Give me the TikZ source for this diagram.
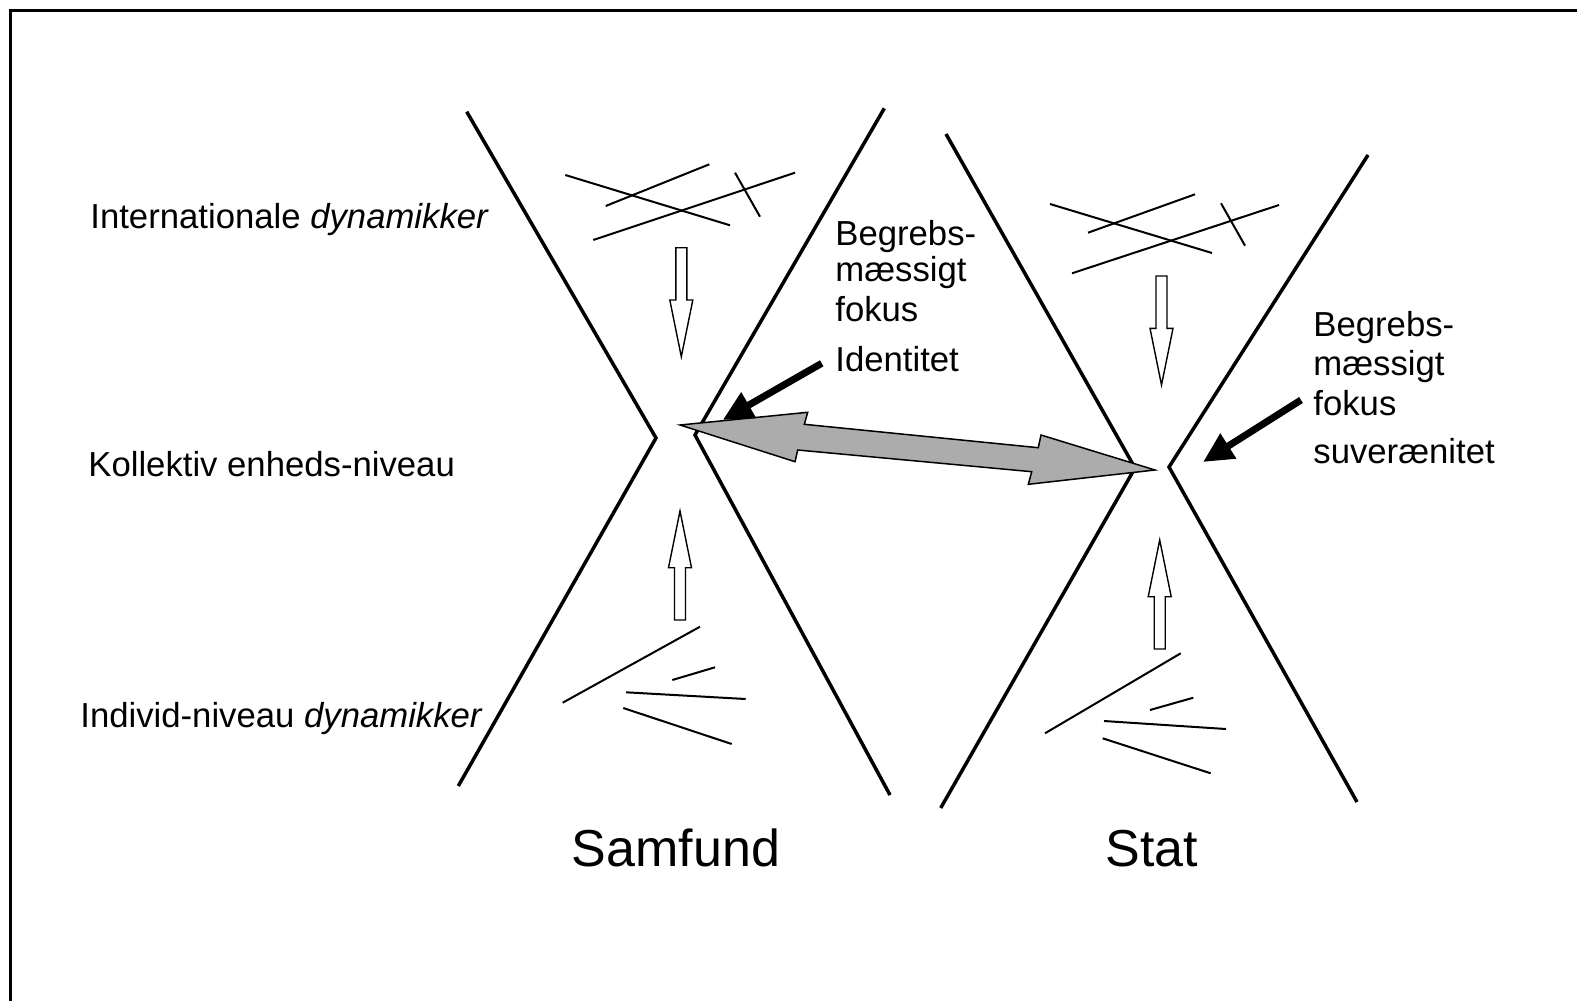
\documentclass[tikz,border=0pt]{standalone}
\usepackage{fontspec}
\setmainfont{Liberation Sans}
\usetikzlibrary{arrows.meta}
\definecolor{arrowgray}{HTML}{ABACAB}
\begin{document}
\begin{tikzpicture}[x=0.5pt,y=-0.5pt,
  frameline/.style={line width=1.5pt},
  hg/.style={line width=1.75pt, line join=miter, line cap=butt},
  scrib/.style={line width=1pt},
  hollow/.style={draw, line width=0.7pt, fill=white, line join=miter},
  lbl/.style={anchor=base west, inner sep=0pt, font=\fontsize{17.35pt}{20pt}\selectfont},
  big/.style={anchor=base, inner sep=0pt, font=\fontsize{26pt}{30pt}\selectfont},
  pointer/.style={line width=3.5pt, -{Triangle[length=15pt,width=14pt]}},
  grayarrow/.style={draw, line width=0.75pt, fill=arrowgray, line join=miter},
  hollowarrow/.pic={\path[hollow] (-5.5,0) -- (5.5,0) -- (5.5,52.3) -- (11.5,52.3) -- (0,109) -- (-11.5,52.3) -- (-5.5,52.3) -- cycle;}
]
\useasboundingbox (0,0) rectangle (1577,1001);

% frame (top and left edges)
\draw[frameline] (10.5,1001) -- (10.5,10.5) -- (1577,10.5);

% ---------- Samfund hourglass ----------
\coordinate (sLt) at (466.7,111.7);
\coordinate (sLv) at (656,438);
\coordinate (sLb) at (458.3,786);
\coordinate (sRt) at (884.3,108.3);
\coordinate (sRv) at (695,435);
\coordinate (sRb) at (890,795);
\draw[hg] (sLt) -- (sLv) -- (sLb);
\draw[hg] (sRt) -- (sRv) -- (sRb);

% ---------- Stat hourglass ----------
\coordinate (tLt) at (946,134);
\coordinate (tLv) at (1135,468);
\coordinate (tLb) at (940.7,808);
\coordinate (tRt) at (1368,155);
\coordinate (tRv) at (1169,467);
\coordinate (tRb) at (1357,802);
\draw[hg] (tLt) -- (tLv) -- (tLb);
\draw[hg] (tRt) -- (tRv) -- (tRb);

% ---------- scribbles, Samfund ----------
\draw[scrib] (565.3,175) -- (730,225.3);
\draw[scrib] (605.7,206) -- (709.3,164.3);
\draw[scrib] (593.3,240) -- (795,172.7);
\draw[scrib] (735,172.7) -- (760,216.7);
\draw[scrib] (562.7,702.7) -- (700,626.7);
\draw[scrib] (672.3,680) -- (715,667.3);
\draw[scrib] (626,692.3) -- (745.7,699);
\draw[scrib] (623.3,708) -- (731.7,744);

% ---------- scribbles, Stat ----------
\draw[scrib] (1050,204) -- (1212,253);
\draw[scrib] (1088,232.7) -- (1195,194.3);
\draw[scrib] (1072,273.3) -- (1279,205);
\draw[scrib] (1221,203.3) -- (1245,245.7);
\draw[scrib] (1045,733.3) -- (1180.7,653.3);
\draw[scrib] (1150,710) -- (1193.3,697.7);
\draw[scrib] (1104,721) -- (1226,729);
\draw[scrib] (1102.7,738.3) -- (1210.7,773.3);

% ---------- hollow arrows ----------
\pic at (681.3,247.7) {hollowarrow};
\pic[rotate=180] at (680,620) {hollowarrow};
\pic at (1161.5,276) {hollowarrow};
\pic[rotate=180] at (1159.7,649) {hollowarrow};

% ---------- gray double arrow ----------
\coordinate (gL) at (680,425);
\coordinate (gR) at (1155,470);
\path[grayarrow] (gL) -- (807.7,412.3) -- (804.3,424.3) -- (1038.3,447.7)
  -- (1041,435) -- (gR) -- (1028.3,484.3) -- (1031.7,471.7)
  -- (797.7,450) -- (795,461.7) -- cycle;

% ---------- left labels ----------
\node[lbl] (intl) at (90,228) {Internationale \textit{dynamikker}};
\node[lbl] (koll) at (88,476) {Kollektiv enheds-niveau};
\node[lbl] (indiv) at (80,727) {Individ-niveau \textit{dynamikker}};

% ---------- Samfund focus labels ----------
\node[lbl] (b1) at (835,245) {Begrebs-};
\node[lbl] (m1) at (835,281.7) {mæssigt};
\node[lbl] (f1) at (835,321.7) {fokus};
\node[lbl] (ident) at (835,371.7) {Identitet};

% ---------- Stat focus labels ----------
\node[lbl] (b2) at (1313,336.7) {Begrebs-};
\node[lbl] (m2) at (1313,375) {mæssigt};
\node[lbl] (f2) at (1313,415) {fokus};
\node[lbl] (suv) at (1313,463.3) {suverænitet};

% ---------- pointer arrows ----------
\coordinate (p1s) at (821.7,363.3);
\coordinate (p1e) at (722.7,420);
\coordinate (p2s) at (1301,400);
\coordinate (p2e) at (1203,462);
\draw[pointer] (p1s) -- (p1e);
\draw[pointer] (p2s) -- (p2e);

% ---------- titles ----------
\node[big] (samfund) at (676,866) {Samfund};
\node[big] (stat) at (1152,866) {Stat};
\end{tikzpicture}
\end{document}
